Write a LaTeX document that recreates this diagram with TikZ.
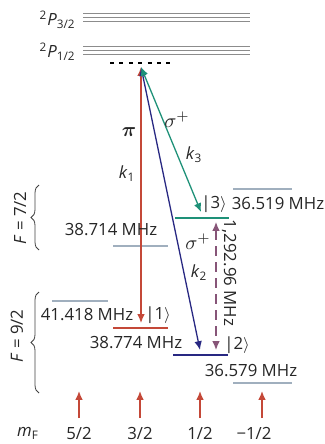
\documentclass[tikz,border=0pt]{standalone}
\usepackage{amsmath}
\usepackage{fontspec}
\setmainfont{Open Sans}
\usepackage{tikz}
\usetikzlibrary{arrows.meta,decorations.pathreplacing}
\usepackage{xcolor}
\definecolor{redk}{RGB}{196,72,56}
\definecolor{bluek}{RGB}{40,40,130}
\definecolor{greenk}{RGB}{30,145,120}
\definecolor{purk}{RGB}{135,85,120}
\definecolor{refgray}{RGB}{160,175,190}
\definecolor{pgray}{RGB}{140,140,140}

\begin{document}
\begin{tikzpicture}[
  x=0.5pt, y=-0.5pt,
  >={Latex[length=4.4pt,width=3.8pt]},
  every node/.style={font=\fontsize{8.4}{10}\selectfont, text=black!85, inner sep=1pt},
  bigmath/.style={font=\fontsize{10}{12}\selectfont},
  plev/.style={draw=pgray, line width=0.6pt},
  lev/.style={line width=0.8pt},
  reflev/.style={draw=refgray, line width=0.8pt},
  arr/.style={line width=0.65pt},
  fbrace/.style={draw=black!75, line width=0.4pt, decorate, decoration={brace, amplitude=4pt}}
]
\useasboundingbox (0,0) rectangle (325,444);
% P manifolds
\foreach \y in {13.3,17.3,21.3} \draw[plev] (83,\y) -- (250,\y);
\foreach \y in {46.5,50.5,54.5} \draw[plev] (83,\y) -- (250,\y);
\node[anchor=east] (p32) at (78,20) {\textsuperscript{2}\textit{P}$_\text{3/2}$};
\node[anchor=east] (p12) at (78,52) {\textsuperscript{2}\textit{P}$_\text{1/2}$};
% virtual level
\draw[line width=1pt, dash pattern=on 2pt off 2.7pt] (110,63.3) -- (172,63.3);
\coordinate (v) at (141,67);
% ground levels
\coordinate (l1a) at (113,328); \coordinate (l1b) at (168,328);
\coordinate (l2a) at (173,355); \coordinate (l2b) at (228,355);
\coordinate (l3a) at (175,218); \coordinate (l3b) at (229,218);
\draw[lev, draw=redk] (l1a) -- (l1b);
\draw[lev, draw=bluek] (l2a) -- (l2b);
\draw[lev, draw=greenk] (l3a) -- (l3b);
% reference levels
\draw[reflev] (233,189) -- (292,189);
\draw[reflev] (113,246) -- (168,246);
\draw[reflev] (52,301) -- (108,301);
\draw[reflev] (233,383) -- (292,383);
% Raman beams
\coordinate (t1) at (141,323);
\coordinate (t2) at (200,350);
\coordinate (t3) at (201,212);
\draw[arr, redk, <->] (v) -- (t1);
\draw[arr, bluek, <->] (v) -- (t2);
\draw[arr, greenk, <->] (v) -- (t3);
% rf splitting
\coordinate (s3) at (216,222);
\coordinate (s2) at (216,350);
\draw[arr, purk, <->, dash pattern=on 5pt off 3pt] (s3) -- (s2);
\node[rotate=-90] (split) at (229,273) {1,292.96 MHz};
% beam labels
\node[bigmath] (pi) at (129,132) {$\boldsymbol{\pi}$};
\node (k1) at (127,174) {\textit{k}$_\text{1}$};
\node[bigmath] (sig3) at (177,120) {$\sigma^{+}$};
\node (k3) at (194,155) {\textit{k}$_\text{3}$};
\node[bigmath] (sig2) at (198,242) {$\sigma^{+}$};
\node (k2) at (199,273) {\textit{k}$_\text{2}$};
% state labels
\node (st3) at (214,204) {|3$\rangle$};
\node (f3) at (278,204) {36.519 MHz};
\node (f714) at (111,230) {38.714 MHz};
\node (f418) at (87,315) {41.418 MHz};
\node (st1) at (158,315) {|1$\rangle$};
\node (f774) at (136,343) {38.774 MHz};
\node (st2) at (237,345) {|2$\rangle$};
\node (f579) at (251,371) {36.579 MHz};
% hyperfine manifolds
\draw[fbrace] (39,250) -- (39,185);
\draw[fbrace] (39,393) -- (39,292);
\node[rotate=90] (F7) at (20,218) {\textit{F} = 7/2};
\node[rotate=90] (F9) at (17,336) {\textit{F} = 9/2};
% Zeeman sublevels
\foreach \x in {79,140,200,262} {
  \coordinate (mb\x) at (\x,418);
  \coordinate (mt\x) at (\x,391);
  \draw[arr, redk, line width=0.75pt, ->] (mb\x) -- (mt\x);
}
\node (mF) at (28,433) {\textit{m}$_\text{F}$};
\node (m5) at (79,433) {5/2};
\node (m3) at (140,433) {3/2};
\node (m1) at (200,433) {1/2};
\node (mm1) at (254,433) {−1/2};
\end{tikzpicture}
\end{document}
